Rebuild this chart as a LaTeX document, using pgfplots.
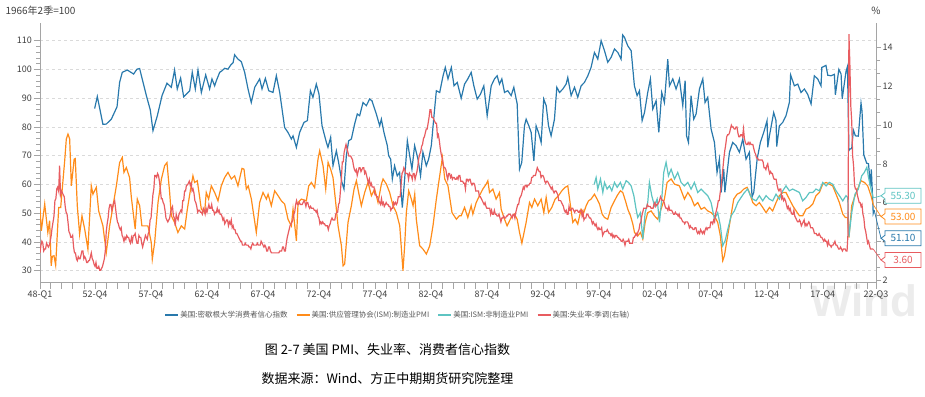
\documentclass[border=0pt]{standalone}
\usepackage{fontspec}
\setmainfont{Noto Sans CJK SC}
\newfontfamily\wmfont{Liberation Sans}
\usepackage{pgfplots}
\usepackage{pgfplotstable}
\pgfplotsset{compat=1.18}

\definecolor{cblue}{RGB}{41,121,172}
\definecolor{corange}{RGB}{255,140,26}
\definecolor{cteal}{RGB}{94,196,194}
\definecolor{cred}{RGB}{232,92,96}
\definecolor{axgray}{RGB}{165,165,165}
\definecolor{txtgray}{RGB}{64,64,64}
\definecolor{leggray}{RGB}{89,89,89}
\definecolor{gridgray}{RGB}{218,218,218}
\definecolor{wmgray}{RGB}{236,236,236}

% US unemployment rate, SA, monthly from Jan 1948
\pgfplotstableread[row sep=\\]{
u\\
3.4\\3.8\\4.0\\3.9\\3.5\\3.6\\3.6\\3.9\\3.8\\3.7\\3.8\\4.0\\
4.3\\4.7\\5.0\\5.3\\6.1\\6.2\\6.7\\6.8\\6.6\\7.9\\6.4\\6.6\\
6.5\\6.4\\6.3\\5.8\\5.5\\5.4\\5.0\\4.5\\4.4\\4.2\\4.2\\4.3\\
3.7\\3.4\\3.4\\3.1\\3.0\\3.2\\3.1\\3.1\\3.3\\3.5\\3.5\\3.1\\
3.2\\3.1\\2.9\\2.9\\3.0\\3.0\\3.2\\3.4\\3.1\\3.0\\2.8\\2.7\\
2.9\\2.6\\2.6\\2.7\\2.5\\2.5\\2.6\\2.7\\2.9\\3.1\\3.5\\4.5\\
4.9\\5.2\\5.7\\5.9\\5.9\\5.6\\5.8\\6.0\\6.1\\5.7\\5.3\\5.0\\
4.9\\4.7\\4.6\\4.7\\4.3\\4.2\\4.0\\4.2\\4.1\\4.3\\4.2\\4.2\\
4.0\\3.9\\4.2\\4.0\\4.3\\4.3\\4.4\\4.1\\3.9\\3.9\\4.3\\4.2\\
4.2\\3.9\\3.7\\3.9\\4.1\\4.3\\4.2\\4.1\\4.4\\4.5\\5.1\\5.2\\
5.8\\6.4\\6.7\\7.4\\7.4\\7.3\\7.5\\7.4\\7.1\\6.7\\6.2\\6.2\\
6.0\\5.9\\5.6\\5.2\\5.1\\5.0\\5.1\\5.2\\5.5\\5.7\\5.8\\5.3\\
5.2\\4.8\\5.4\\5.2\\5.1\\5.4\\5.5\\5.6\\5.5\\6.1\\6.1\\6.6\\
6.6\\6.9\\6.9\\7.0\\7.1\\6.9\\7.0\\6.6\\6.7\\6.5\\6.1\\6.0\\
5.8\\5.5\\5.6\\5.6\\5.5\\5.5\\5.4\\5.7\\5.6\\5.4\\5.7\\5.5\\
5.7\\5.9\\5.7\\5.7\\5.9\\5.6\\5.6\\5.4\\5.5\\5.5\\5.7\\5.5\\
5.6\\5.4\\5.4\\5.3\\5.1\\5.2\\4.9\\5.0\\5.1\\5.1\\4.8\\5.0\\
4.9\\5.1\\4.7\\4.8\\4.6\\4.6\\4.4\\4.4\\4.3\\4.2\\4.1\\4.0\\
4.0\\3.8\\3.8\\3.8\\3.9\\3.8\\3.8\\3.8\\3.7\\3.7\\3.6\\3.8\\
3.9\\3.8\\3.8\\3.8\\3.8\\3.9\\3.8\\3.8\\3.8\\4.0\\3.9\\3.8\\
3.7\\3.8\\3.7\\3.5\\3.5\\3.7\\3.7\\3.5\\3.4\\3.4\\3.4\\3.4\\
3.4\\3.4\\3.4\\3.4\\3.4\\3.5\\3.5\\3.5\\3.7\\3.7\\3.5\\3.5\\
3.9\\4.2\\4.4\\4.6\\4.8\\4.9\\5.0\\5.1\\5.4\\5.5\\5.9\\6.1\\
5.9\\5.9\\6.0\\5.9\\5.9\\5.9\\6.0\\6.1\\6.0\\5.8\\6.0\\6.0\\
5.8\\5.7\\5.8\\5.7\\5.7\\5.7\\5.6\\5.6\\5.5\\5.6\\5.3\\5.2\\
4.9\\5.0\\4.9\\5.0\\4.9\\4.9\\4.8\\4.8\\4.8\\4.6\\4.8\\4.9\\
5.1\\5.2\\5.1\\5.1\\5.1\\5.4\\5.5\\5.5\\5.9\\6.0\\6.6\\7.2\\
8.1\\8.1\\8.6\\8.8\\9.0\\8.8\\8.6\\8.4\\8.4\\8.4\\8.3\\8.2\\
7.9\\7.7\\7.6\\7.7\\7.4\\7.6\\7.8\\7.8\\7.6\\7.7\\7.8\\7.8\\
7.5\\7.6\\7.4\\7.2\\7.0\\7.2\\6.9\\7.0\\6.8\\6.8\\6.8\\6.4\\
6.4\\6.3\\6.3\\6.1\\6.0\\5.9\\6.2\\5.9\\6.0\\5.8\\5.9\\6.0\\
5.9\\5.9\\5.8\\5.8\\5.6\\5.7\\5.7\\6.0\\5.9\\6.0\\5.9\\6.0\\
6.3\\6.3\\6.3\\6.9\\7.5\\7.6\\7.8\\7.7\\7.5\\7.5\\7.5\\7.2\\
7.5\\7.4\\7.4\\7.2\\7.5\\7.5\\7.2\\7.4\\7.6\\7.9\\8.3\\8.5\\
8.6\\8.9\\9.0\\9.3\\9.4\\9.6\\9.8\\9.8\\10.1\\10.4\\10.8\\10.8\\
10.4\\10.4\\10.3\\10.2\\10.1\\10.1\\9.4\\9.5\\9.2\\8.8\\8.5\\8.3\\
8.0\\7.8\\7.8\\7.7\\7.4\\7.2\\7.5\\7.5\\7.3\\7.4\\7.2\\7.3\\
7.3\\7.2\\7.2\\7.3\\7.2\\7.4\\7.4\\7.1\\7.1\\7.1\\7.0\\7.0\\
6.7\\7.2\\7.2\\7.1\\7.2\\7.2\\7.0\\6.9\\7.0\\7.0\\6.9\\6.6\\
6.6\\6.6\\6.6\\6.3\\6.3\\6.2\\6.1\\6.0\\5.9\\6.0\\5.8\\5.7\\
5.7\\5.7\\5.7\\5.4\\5.6\\5.4\\5.4\\5.6\\5.4\\5.4\\5.3\\5.3\\
5.4\\5.2\\5.0\\5.2\\5.2\\5.3\\5.2\\5.2\\5.3\\5.3\\5.4\\5.4\\
5.4\\5.3\\5.2\\5.4\\5.4\\5.2\\5.5\\5.7\\5.9\\5.9\\6.2\\6.3\\
6.4\\6.6\\6.8\\6.7\\6.9\\6.9\\6.8\\6.9\\6.9\\7.0\\7.0\\7.3\\
7.3\\7.4\\7.4\\7.4\\7.6\\7.8\\7.7\\7.6\\7.6\\7.3\\7.4\\7.4\\
7.3\\7.1\\7.0\\7.1\\7.1\\7.0\\6.9\\6.8\\6.7\\6.8\\6.6\\6.5\\
6.6\\6.6\\6.5\\6.4\\6.1\\6.1\\6.1\\6.0\\5.9\\5.8\\5.6\\5.5\\
5.6\\5.4\\5.4\\5.8\\5.6\\5.6\\5.7\\5.7\\5.6\\5.5\\5.6\\5.6\\
5.6\\5.5\\5.5\\5.6\\5.6\\5.3\\5.5\\5.1\\5.2\\5.2\\5.4\\5.4\\
5.3\\5.2\\5.2\\5.1\\4.9\\5.0\\4.9\\4.8\\4.9\\4.7\\4.6\\4.7\\
4.6\\4.6\\4.7\\4.3\\4.4\\4.5\\4.5\\4.5\\4.6\\4.5\\4.4\\4.4\\
4.3\\4.4\\4.2\\4.3\\4.2\\4.3\\4.3\\4.2\\4.2\\4.1\\4.1\\4.0\\
4.0\\4.1\\4.0\\3.8\\4.0\\4.0\\4.0\\4.1\\3.9\\3.9\\3.9\\3.9\\
4.2\\4.2\\4.3\\4.4\\4.3\\4.5\\4.6\\4.9\\5.0\\5.3\\5.5\\5.7\\
5.7\\5.7\\5.7\\5.9\\5.8\\5.8\\5.8\\5.7\\5.7\\5.7\\5.9\\6.0\\
5.8\\5.9\\5.9\\6.0\\6.1\\6.3\\6.2\\6.1\\6.1\\6.0\\5.8\\5.7\\
5.7\\5.6\\5.8\\5.6\\5.6\\5.6\\5.5\\5.4\\5.4\\5.5\\5.4\\5.4\\
5.3\\5.4\\5.2\\5.2\\5.1\\5.0\\5.0\\4.9\\5.0\\5.0\\5.0\\4.9\\
4.7\\4.8\\4.7\\4.7\\4.6\\4.6\\4.7\\4.7\\4.5\\4.4\\4.5\\4.4\\
4.6\\4.5\\4.4\\4.5\\4.4\\4.6\\4.7\\4.6\\4.7\\4.7\\4.7\\5.0\\
5.0\\4.9\\5.1\\5.0\\5.4\\5.6\\5.8\\6.1\\6.1\\6.5\\6.8\\7.3\\
7.8\\8.3\\8.7\\9.0\\9.4\\9.5\\9.5\\9.6\\9.8\\10.0\\9.9\\9.9\\
9.8\\9.8\\9.9\\9.9\\9.6\\9.4\\9.4\\9.5\\9.5\\9.4\\9.8\\9.3\\
9.1\\9.0\\9.0\\9.1\\9.0\\9.1\\9.0\\9.0\\9.0\\8.8\\8.6\\8.5\\
8.3\\8.3\\8.2\\8.2\\8.2\\8.2\\8.2\\8.1\\7.8\\7.8\\7.7\\7.9\\
8.0\\7.7\\7.5\\7.6\\7.5\\7.5\\7.3\\7.2\\7.2\\7.2\\6.9\\6.7\\
6.6\\6.7\\6.7\\6.2\\6.3\\6.1\\6.2\\6.1\\5.9\\5.7\\5.8\\5.6\\
5.7\\5.5\\5.4\\5.4\\5.6\\5.3\\5.2\\5.1\\5.0\\5.0\\5.1\\5.0\\
4.8\\4.9\\5.0\\5.1\\4.8\\4.9\\4.8\\4.9\\5.0\\4.9\\4.7\\4.7\\
4.7\\4.6\\4.4\\4.4\\4.4\\4.3\\4.3\\4.4\\4.3\\4.2\\4.2\\4.1\\
4.0\\4.1\\4.0\\4.0\\3.8\\4.0\\3.8\\3.8\\3.7\\3.8\\3.8\\3.9\\
4.0\\3.8\\3.8\\3.7\\3.6\\3.6\\3.7\\3.6\\3.5\\3.6\\3.6\\3.6\\
3.5\\3.5\\4.4\\14.7\\13.2\\11.0\\10.2\\8.4\\7.9\\6.9\\6.7\\6.7\\
6.4\\6.2\\6.0\\6.0\\5.8\\5.9\\5.4\\5.2\\4.7\\4.5\\4.2\\3.9\\
4.0\\3.8\\3.6\\3.6\\3.6\\3.6\\
}\unemp

% ISM manufacturing PMI
\pgfplotstableread[row sep=\\]{
x y\\
1948.0 51.7\\1948.12 43.9\\1948.42 53.2\\1948.7 43.3\\1948.86 47.4\\1949.0 31.7\\1949.1 35.0\\1949.25 35.2\\1949.4 31.9\\1949.67 52.0\\1949.85 52.0\\1949.96 57.2\\
1950.2 68.0\\1950.35 75.8\\1950.5 77.5\\1950.65 75.8\\1950.8 59.5\\1951.05 68.8\\1951.15 69.0\\1951.33 52.6\\1951.54 42.7\\1951.75 49.1\\1951.99 44.5\\1952.28 37.5\\1952.58 59.5\\1952.73 56.6\\
1953.03 59.0\\1953.24 50.8\\1953.62 45.6\\1953.92 36.3\\1954.22 45.6\\1954.5 52.0\\1954.82 59.5\\1955.11 67.6\\1955.35 69.4\\1955.5 64.2\\1955.71 65.9\\1956.0 62.4\\1956.16 55.5\\1956.5 44.5\\1956.69 54.9\\1956.9 52.6\\
1957.1 45.6\\1957.35 45.6\\1957.64 45.6\\1957.94 39.8\\1958.03 34.0\\1958.24 39.8\\1958.54 53.7\\1958.84 61.8\\1959.13 66.5\\1959.34 67.6\\1959.58 57.2\\1959.73 49.1\\
1960.02 46.8\\1960.32 43.3\\1960.62 45.6\\1960.92 44.5\\1961.16 51.4\\1961.45 58.4\\1961.66 63.0\\1961.81 60.7\\1962.05 61.3\\1962.41 51.4\\1962.7 50.2\\1962.85 57.2\\
1963.06 54.9\\1963.3 59.5\\1963.6 57.2\\1963.9 54.3\\1964.19 59.5\\1964.49 62.4\\1964.79 64.2\\1965.09 61.9\\1965.38 63.0\\1965.68 59.5\\1966.04 65.6\\1966.22 65.3\\1966.43 58.4\\1966.6 59.5\\1966.88 54.9\\
1967.32 43.3\\1967.62 53.7\\1967.92 57.2\\1968.22 54.9\\1968.37 56.6\\1968.66 52.6\\1968.96 57.8\\1969.26 56.1\\1969.56 54.3\\1969.85 53.2\\1970.15 47.9\\1970.45 45.6\\1970.6 51.4\\1970.9 40.4\\
1971.05 53.7\\1971.34 54.9\\1971.79 54.3\\1972.0 59.5\\1972.24 60.7\\1972.53 58.9\\1972.83 68.8\\1972.98 71.7\\1973.28 66.5\\1973.52 58.4\\1973.73 67.7\\1973.96 65.3\\
1974.17 62.4\\1974.38 54.9\\1974.62 45.6\\1974.92 38.7\\1975.07 31.7\\1975.21 32.3\\1975.51 46.8\\1975.81 52.6\\1976.05 58.4\\1976.26 61.3\\1976.46 57.2\\1976.7 52.6\\
1977.0 57.2\\1977.3 60.7\\1977.6 56.1\\1977.89 58.4\\1978.19 53.7\\1978.49 60.1\\1978.64 61.9\\1978.94 60.1\\1979.23 57.2\\1979.53 52.6\\1979.83 50.2\\
1980.13 45.6\\1980.42 30.0\\1980.57 38.7\\1980.72 50.2\\1980.93 57.8\\1981.17 54.9\\1981.32 52.6\\1981.47 56.6\\1981.61 47.9\\1981.91 38.7\\1982.21 37.5\\1982.51 35.8\\1982.81 38.7\\
1983.1 45.6\\1983.4 54.9\\1983.7 63.0\\1983.94 69.4\\1984.15 61.9\\1984.44 59.5\\1984.8 50.2\\1985.19 47.9\\1985.45 49.1\\1985.62 49.1\\1985.92 52.0\\1986.21 48.5\\1986.51 52.6\\1986.66 49.7\\1986.96 53.7\\
1987.25 56.1\\1987.55 58.4\\1987.85 60.1\\1988.0 61.3\\1988.15 57.2\\1988.45 58.4\\1988.74 54.9\\1989.04 57.2\\1989.19 51.4\\1989.49 47.9\\1989.72 45.6\\
1990.08 48.5\\1990.38 49.7\\1990.62 47.9\\1990.83 43.3\\1991.04 39.6\\1991.42 46.8\\1991.72 53.7\\1991.93 52.0\\1992.17 54.9\\1992.46 52.6\\1992.76 54.9\\
1993.0 50.2\\1993.21 55.5\\1993.42 50.2\\1993.71 52.0\\1994.01 54.9\\1994.31 56.1\\1994.61 57.8\\1994.9 59.0\\1995.14 59.5\\1995.38 52.6\\1995.59 46.8\\1995.8 47.9\\
1996.03 46.2\\1996.33 51.4\\1996.57 50.2\\1996.78 52.6\\1996.99 54.3\\1997.22 54.9\\1997.52 56.6\\1997.76 54.9\\1997.97 53.2\\1998.21 49.7\\1998.42 48.5\\1998.71 47.9\\
1999.01 52.0\\1999.31 54.3\\1999.55 56.1\\1999.84 57.8\\2000.05 57.2\\2000.29 54.3\\2000.5 51.4\\2000.74 49.1\\2000.95 46.2\\2001.1 43.3\\2001.39 42.1\\2001.63 43.3\\2001.84 41.0\\
2002.05 46.8\\2002.28 50.2\\2002.58 50.8\\2002.88 49.1\\2003.17 47.9\\2003.47 51.4\\2003.77 54.9\\2004.01 60.7\\2004.37 61.9\\2004.67 60.1\\
2005.11 59.5\\2005.56 54.9\\2005.86 57.2\\2006.15 55.5\\2006.45 52.6\\2006.75 53.7\\2007.05 51.4\\2007.34 52.0\\2007.64 50.8\\2007.94 50.2\\
2008.24 49.1\\2008.53 46.8\\2008.77 42.1\\2008.98 33.5\\2009.13 35.2\\2009.37 41.0\\2009.67 48.0\\2009.96 54.9\\2010.26 56.6\\2010.56 57.2\\2010.86 58.4\\
2011.15 59.0\\2011.36 57.2\\2011.66 53.7\\2011.96 52.6\\2012.25 53.7\\2012.55 52.0\\2012.85 50.2\\2013.15 52.0\\2013.44 50.8\\2013.74 53.7\\
2014.04 56.1\\2014.34 57.2\\2014.63 57.2\\2014.93 54.9\\2015.23 52.6\\2015.53 50.8\\2015.83 49.1\\2016.12 49.1\\2016.42 51.4\\2016.72 52.0\\
2017.02 53.2\\2017.31 56.1\\2017.61 57.2\\2017.91 60.1\\2018.21 60.7\\2018.5 60.1\\2018.8 59.5\\2019.1 56.6\\2019.4 53.7\\2019.7 49.7\\2019.93 48.5\\
2020.14 48.5\\2020.25 41.5\\2020.5 52.6\\2020.74 55.5\\2021.03 58.4\\2021.33 61.3\\2021.63 60.7\\2021.93 59.5\\2022.22 56.1\\2022.42 53.0\\
}\ism

% ISM non-manufacturing PMI
\pgfplotstableread[row sep=\\]{
x y\\
1997.5 60.0\\1997.67 62.4\\1997.82 58.4\\1998.06 61.9\\1998.27 57.2\\1998.42 60.7\\1998.65 58.4\\1998.86 59.5\\1999.07 57.8\\1999.31 60.7\\1999.55 59.0\\1999.84 60.7\\
2000.05 58.4\\2000.35 61.3\\2000.56 60.7\\2000.8 59.5\\2001.04 56.1\\2001.24 51.4\\2001.39 48.5\\2001.63 50.2\\2001.84 41.0\\2002.05 50.2\\2002.28 53.7\\2002.43 60.7\\2002.64 56.1\\2002.88 52.6\\
2003.12 54.9\\2003.33 46.8\\2003.53 54.9\\2003.71 64.2\\2003.92 67.7\\2004.13 63.0\\2004.37 65.3\\2004.67 61.9\\2004.96 64.2\\2005.26 60.7\\2005.56 59.5\\2005.86 60.7\\
2006.15 58.4\\2006.45 60.7\\2006.75 57.2\\2007.05 58.4\\2007.34 57.2\\2007.64 56.1\\2007.94 53.7\\2008.24 47.9\\2008.53 50.2\\2008.77 45.6\\2008.98 38.7\\
2009.19 40.4\\2009.44 44.5\\2009.73 49.1\\2010.02 50.8\\2010.32 53.7\\2010.62 55.5\\2010.92 57.2\\2011.21 58.4\\2011.45 56.1\\2011.66 54.9\\2011.96 54.3\\
2012.25 56.1\\2012.55 54.3\\2012.85 56.1\\2013.15 54.9\\2013.44 54.3\\2013.74 56.6\\2014.04 54.9\\2014.34 57.8\\2014.63 59.5\\2014.93 57.8\\
2015.23 58.4\\2015.53 57.8\\2015.83 57.2\\2016.12 54.3\\2016.42 55.5\\2016.72 57.2\\2017.02 57.2\\2017.31 58.4\\2017.61 57.8\\2017.91 60.7\\
2018.21 59.5\\2018.5 60.7\\2018.8 60.1\\2019.1 57.8\\2019.4 56.1\\2019.7 54.3\\2019.99 56.1\\2020.14 55.5\\2020.25 41.8\\2020.5 50.2\\2020.79 56.6\\
2021.09 58.4\\2021.39 63.0\\2021.63 64.2\\2021.85 66.0\\2022.0 62.4\\2022.22 58.5\\2022.42 55.3\\
}\nmi

% University of Michigan consumer sentiment
\pgfplotstableread[row sep=\\]{
x y\\
1952.88 86.4\\1953.12 90.6\\1953.62 80.9\\1953.92 81.0\\1954.37 82.7\\1954.88 87.0\\1955.11 95.5\\1955.35 99.0\\1955.8 99.8\\1956.36 98.4\\1956.66 100.1\\1956.9 100.3\\
1957.5 90.9\\1957.85 85.9\\1958.09 78.7\\1958.48 83.9\\1958.9 90.9\\1959.34 95.2\\1959.73 93.8\\1960.02 99.8\\1960.26 93.2\\1960.56 97.0\\1960.83 90.5\\
1961.37 92.6\\1961.6 99.0\\1961.87 93.2\\1962.11 99.8\\1962.41 92.0\\1962.8 98.1\\1963.15 93.2\\1963.36 96.7\\1963.6 94.3\\1963.75 96.1\\
1964.05 99.0\\1964.28 99.6\\1964.49 100.4\\1964.79 100.1\\1965.03 101.5\\1965.25 102.4\\1965.38 105.1\\1965.68 103.6\\1965.98 102.7\\1966.28 99.0\\1966.58 93.2\\1966.87 88.5\\
1967.18 93.8\\1967.62 96.7\\1967.83 93.2\\1968.13 96.9\\1968.43 92.6\\1968.81 92.0\\1969.11 97.8\\1969.41 92.0\\1969.85 79.8\\1970.15 78.1\\1970.45 75.8\\1970.6 76.9\\1970.9 72.9\\
1971.19 78.1\\1971.58 81.6\\1971.88 82.2\\1972.15 92.6\\1972.38 90.3\\1972.68 94.9\\1972.92 91.4\\1973.19 80.4\\1973.58 74.6\\1973.72 72.9\\1973.96 76.4\\
1974.17 66.5\\1974.47 71.7\\1974.67 67.7\\1974.97 60.7\\1975.15 58.4\\1975.36 70.0\\1975.57 75.2\\1975.81 75.8\\1976.1 81.0\\1976.34 84.5\\1976.55 83.9\\1976.85 88.5\\
1977.15 87.4\\1977.44 89.7\\1977.65 89.1\\1978.04 84.5\\1978.34 80.4\\1978.49 82.7\\1978.72 78.1\\1979.02 73.5\\1979.14 70.0\\1979.32 68.8\\1979.47 61.9\\1979.67 66.5\\1979.91 63.0\\
1980.12 64.2\\1980.36 52.0\\1980.57 61.9\\1980.81 75.2\\1981.02 70.0\\1981.22 65.3\\1981.46 73.5\\1981.76 68.8\\1981.99 63.0\\1982.2 71.2\\1982.5 66.5\\1982.71 68.8\\1982.95 73.5\\
1983.19 83.9\\1983.4 92.6\\1983.7 92.0\\1984.0 97.8\\1984.2 100.7\\1984.44 96.7\\1984.74 100.7\\1984.98 94.3\\1985.27 95.5\\1985.62 90.0\\1985.92 94.9\\
1986.21 96.7\\1986.51 99.0\\1986.75 94.3\\1987.05 89.7\\1987.34 91.4\\1987.64 94.3\\1987.94 83.9\\1988.3 94.3\\1988.59 96.7\\1988.83 97.8\\1989.04 94.9\\1989.25 96.7\\1989.49 92.0\\1989.78 92.6\\
1990.08 90.9\\1990.32 93.8\\1990.62 88.0\\1990.83 65.3\\1991.03 67.7\\1991.27 80.4\\1991.42 82.7\\1991.66 80.4\\1991.87 78.1\\1992.11 68.2\\1992.31 80.4\\1992.52 78.1\\1992.76 74.6\\1992.99 89.7\\
1993.21 87.4\\1993.42 80.4\\1993.65 76.9\\1993.95 82.7\\1994.16 93.8\\1994.4 92.0\\1994.7 93.2\\1994.99 94.9\\1995.14 97.2\\1995.44 90.9\\1995.74 93.8\\
1996.03 90.3\\1996.33 94.3\\1996.63 95.5\\1996.93 97.8\\1997.22 100.7\\1997.52 105.9\\1997.82 103.6\\1998.12 110.0\\1998.42 106.5\\1998.71 102.5\\
1999.01 104.2\\1999.31 107.1\\1999.61 105.9\\1999.9 103.6\\2000.04 112.0\\2000.2 111.2\\2000.5 108.2\\2000.8 106.5\\2001.09 94.3\\2001.33 90.9\\2001.54 92.6\\2001.78 82.2\\2001.99 85.0\\
2002.28 92.0\\2002.52 96.7\\2002.73 86.2\\2003.03 89.1\\2003.27 78.1\\2003.53 92.0\\2003.77 88.5\\2004.07 103.6\\2004.22 94.3\\2004.52 96.7\\2004.81 93.2\\
2005.11 96.7\\2005.41 87.4\\2005.62 96.1\\2005.75 76.9\\2005.92 74.6\\2006.15 90.9\\2006.39 82.7\\2006.6 84.5\\2006.9 93.2\\2007.2 96.7\\2007.4 88.5\\2007.64 90.3\\2007.94 79.3\\
2008.24 74.6\\2008.47 64.2\\2008.68 68.8\\2008.83 57.2\\2009.07 65.3\\2009.17 57.3\\2009.58 71.2\\2009.87 74.6\\2010.17 73.5\\2010.47 71.2\\2010.77 75.8\\
2011.06 68.8\\2011.36 71.2\\2011.6 55.7\\2011.75 57.2\\2012.05 68.8\\2012.34 74.6\\2012.64 78.1\\2012.94 82.2\\2013.0 72.9\\2013.15 76.9\\2013.53 85.0\\2013.74 82.2\\2013.8 73.2\\
2014.04 80.4\\2014.34 81.6\\2014.63 83.9\\2014.93 88.5\\2015.04 98.1\\2015.38 94.3\\2015.68 94.9\\2015.97 92.0\\2016.27 93.2\\2016.56 91.4\\2016.87 88.0\\
2017.16 97.8\\2017.46 96.7\\2017.76 94.3\\2017.83 100.7\\2018.2 101.4\\2018.36 98.0\\2018.65 97.8\\2018.95 98.3\\2019.04 91.2\\2019.25 97.2\\2019.35 100.0\\2019.55 98.4\\2019.65 89.8\\2019.99 99.3\\
2020.12 101.0\\2020.25 71.8\\2020.33 72.3\\2020.5 72.5\\2020.65 78.9\\2020.83 76.9\\2021.09 76.8\\2021.33 88.3\\2021.42 85.5\\2021.58 70.3\\2021.83 67.4\\
2022.0 67.2\\2022.17 59.4\\2022.25 65.2\\2022.33 58.4\\2022.42 50.0\\2022.5 51.1\\
}\umich

\begin{document}
\begin{tikzpicture}
\path[use as bounding box] (0,0) rectangle (925pt,396pt);
% watermark
\node[font=\wmfont\bfseries\fontsize{44}{44}\selectfont, text=wmgray, anchor=base west, inner sep=0pt] at (810pt,79pt) {Wind};

\begin{axis}[
  at={(40pt,113.7pt)}, anchor=south west,
  width=836pt, height=259.6pt, scale only axis,
  xmin=1948, xmax=2022.67, ymin=25.97, ymax=116.26,
  axis y line*=left, axis x line*=bottom,
  axis line style={-, draw=axgray, line width=0.7pt},
  ytick={30,40,...,110}, minor y tick num=4,
  xtick={1948,1952.917,1957.917,1962.917,1967.917,1972.917,1977.917,1982.917,1987.917,1992.917,1997.917,2002.917,2007.917,2012.917,2017.917,2022.67},
  xticklabels={48-Q1,52-Q4,57-Q4,62-Q4,67-Q4,72-Q4,77-Q4,82-Q4,87-Q4,92-Q4,97-Q4,02-Q4,07-Q4,12-Q4,17-Q4,22-Q3},
  extra x ticks={1948.917,1949.917,...,2021.917},
  extra x tick labels={},
  extra x tick style={grid=none},
  tick align=outside, major tick length=6.5pt, minor tick length=4pt,
  tick style={draw=axgray, line width=0.6pt},
  ymajorgrids, grid style={gridgray, dash pattern=on 3pt off 3pt, line width=0.6pt},
  /pgf/number format/assume math mode=true,
  ticklabel style={font=\fontsize{9}{10}\selectfont, text=txtgray},
  yticklabel style={inner xsep=1.5pt},
  xticklabel style={inner ysep=2pt},
  legend columns=4,
  legend style={at={(0.428,-0.126)}, anchor=center, draw=none, fill=none,
    font=\fontsize{7.5}{9}\selectfont, text=leggray,
    nodes={inner xsep=1.5pt, inner ysep=1pt},
    /tikz/every even column/.append style={column sep=7pt}},
  legend image code/.code={\draw[#1] (0pt,0pt) -- (13pt,0pt);},
]
\addplot[cblue, line width=1.2pt] table[x=x, y=y] {\umich};
\addlegendentry{美国:密歇根大学消费者信心指数}
\addplot[corange, line width=1.2pt] table[x=x, y=y] {\ism};
\addlegendentry{美国:供应管理协会(ISM):制造业PMI}
\addplot[cteal, line width=1.2pt] table[x=x, y=y] {\nmi};
\addlegendentry{美国:ISM:非制造业PMI}
\addlegendimage{cred, line width=1.2pt}
\addlegendentry{美国:失业率:季调(右轴)}
\coordinate (bEnd) at (axis cs:2022.5,51.1);
\coordinate (oEnd) at (axis cs:2022.42,53.0);
\coordinate (tEnd) at (axis cs:2022.42,55.3);
\end{axis}

\begin{axis}[
  at={(40pt,113.7pt)}, anchor=south west,
  width=836pt, height=259.6pt, scale only axis,
  xmin=1948, xmax=2022.67, ymin=1.88, ymax=15.29,
  axis y line*=right, axis x line=none,
  axis line style={-, draw=axgray, line width=0.7pt},
  ytick={2,4,...,14}, minor y tick num=2,
  tick align=outside, major tick length=5pt, minor tick length=4pt,
  tick style={draw=axgray, line width=0.6pt},
  /pgf/number format/assume math mode=true,
  ticklabel style={font=\fontsize{9}{10}\selectfont, text=txtgray},
  yticklabel style={inner xsep=1.5pt},
]
\addplot[cred, line width=1.2pt] table[x expr=1948+\coordindex/12, y=u] {\unemp};
\coordinate (rEnd) at (axis cs:2022.42,3.6);
\end{axis}

% axis unit labels
\node[font=\fontsize{10}{12}\selectfont, text=txtgray] at (40.5pt,385pt) {1966年2季=100};
\node[font=\fontsize{10}{12}\selectfont, text=txtgray] at (876pt,385pt) {\%};

% latest-value tags
\newcommand{\valtag}[4]{%
  \draw[#1, line width=0.7pt] (#4) -- (881pt,#2pt);
  \draw[#1, line width=0.8pt, fill=white] (885pt,{#2pt+7.5pt}) -- (921pt,{#2pt+7.5pt}) -- (921pt,{#2pt-7.5pt}) -- (885pt,{#2pt-7.5pt}) -- (885pt,{#2pt-3pt}) -- (881pt,#2pt) -- (885pt,{#2pt+3pt}) -- cycle;
  \node[text=#1, font=\fontsize{10}{12}\selectfont, inner sep=0pt] at (903pt,#2pt) {#3};
}
\valtag{cteal}{200.2}{55.30}{tEnd}
\valtag{corange}{179.5}{53.00}{oEnd}
\valtag{cblue}{157.7}{51.10}{bEnd}
\valtag{cred}{136}{3.60}{rEnd}

% caption
\node[font=\fontsize{13}{15}\selectfont] at (387.5pt,46pt) {图 2-7 美国 PMI、失业率、消费者信心指数};
\node[font=\fontsize{13}{15}\selectfont] at (387.5pt,17pt) {数据来源：Wind、方正中期期货研究院整理};
\end{tikzpicture}
\end{document}
